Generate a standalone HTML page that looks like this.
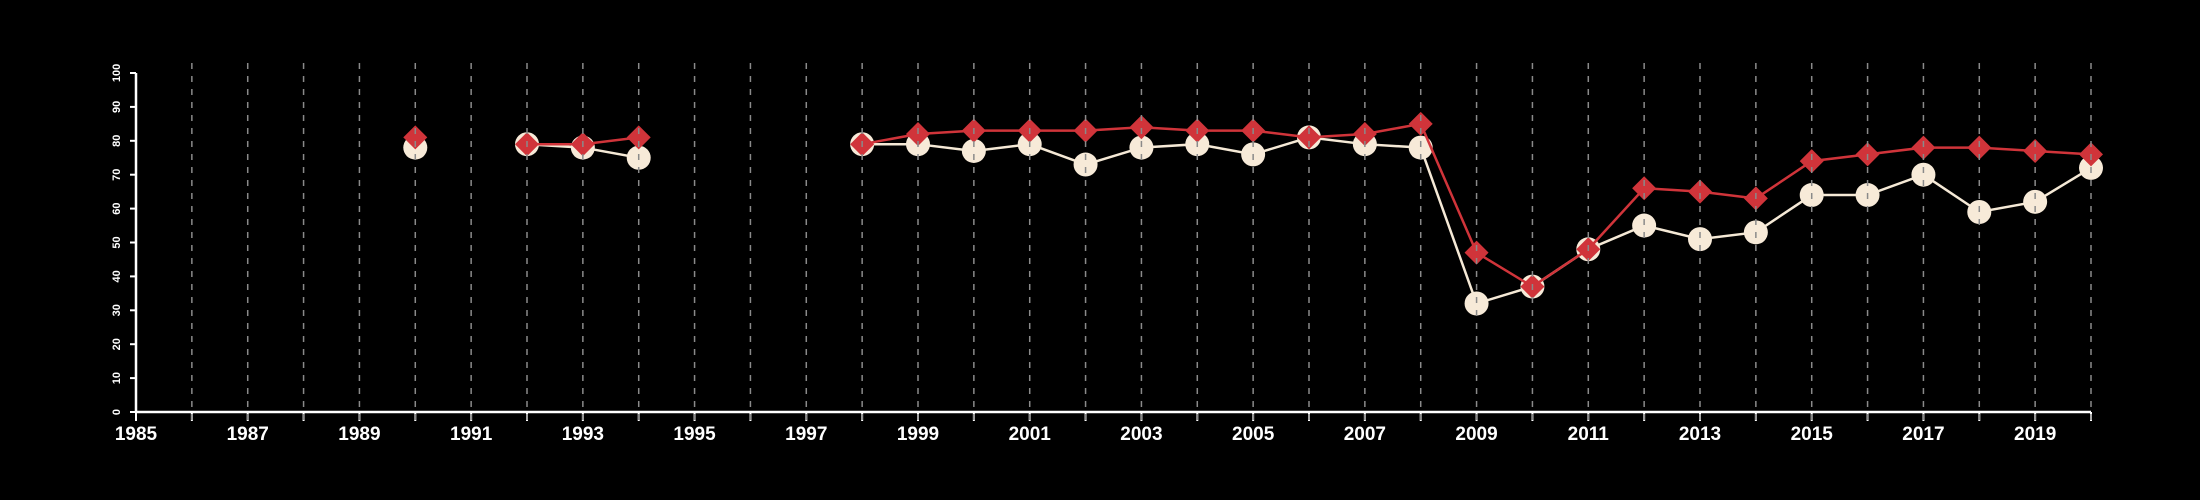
<!DOCTYPE html>
<html><head><meta charset="utf-8"><style>
html,body{margin:0;padding:0;background:#000;}
svg{display:block;}
</style></head><body>
<svg id="chart" width="2200" height="500" xmlns="http://www.w3.org/2000/svg">
<rect width="2200" height="500" fill="#000"/>
<g id="grid"></g>
<g id="axes"></g>
<g id="series"></g>
<g id="grid2"></g>
</svg>
<script>
const years = [1990,1991,1992,1993,1994,1995,1996,1997,1998,1999,2000,2001,2002,2003,2004,2005,2006,2007,2008,2009,2010,2011,2012,2013,2014,2015,2016,2017,2018,2019,2020];
const whiteSeries = [78,null,79,78,75,null,null,null,79,79,77,79,73,78,79,76,81,79,78,32,37,48,55,51,53,64,64,70,59,62,72];
const redSeries = [81,null,79,79,81,null,null,null,79,82,83,83,83,84,83,83,81,82,85,47,37,48,66,65,63,74,76,78,78,77,76];
const yTicks = [0,10,20,30,40,50,60,70,80,90,100];
const xLabelYears = [1985,1987,1989,1991,1993,1995,1997,1999,2001,2003,2005,2007,2009,2011,2013,2015,2017,2019];

const NS='http://www.w3.org/2000/svg';
const X0=136, X1=2091, Y0=412, Y1=73;
const xMin=1985, xMax=2020;
function xs(v){return X0+(v-xMin)/(xMax-xMin)*(X1-X0);}
function ys(v){return Y0-(v/100)*(Y0-Y1);}
function mk(tag,attrs,parent){const e=document.createElementNS(NS,tag);for(const k in attrs)e.setAttribute(k,attrs[k]);parent.appendChild(e);return e;}

const grid=document.getElementById('grid');
const grid2=document.getElementById('grid2');
const axes=document.getElementById('axes');
const series=document.getElementById('series');

for(let y=1986;y<=2020;y++){
  const l=mk('line',{x1:xs(y),x2:xs(y),y1:63,y2:420,stroke:'#8a8a8a','stroke-width':1.5,'stroke-dasharray':'6,7'},grid2);
  
  
}
// axes
let a=mk('line',{x1:X0,x2:X1,y1:Y0,y2:Y0,stroke:'#fff','stroke-width':2.5},axes);


a=mk('line',{x1:X0,x2:X0,y1:Y0,y2:Y1,stroke:'#fff','stroke-width':2.5},axes);


for(let y=1985;y<=2020;y++){
  const t=mk('line',{x1:xs(y),x2:xs(y),y1:Y0,y2:Y0+9,stroke:'#fff','stroke-width':2},axes);
  
  
}
xLabelYears.forEach(y=>{
  const t=mk('text',{x:xs(y),y:440,fill:'#fff','font-family':'Liberation Sans, sans-serif','font-size':19,'font-weight':'bold','text-anchor':'middle'},axes);
  t.textContent=y;
  
  
});
yTicks.forEach(v=>{
  const t=mk('line',{x1:X0-6,x2:X0,y1:ys(v),y2:ys(v),stroke:'#fff','stroke-width':2},axes);
  
  
  const tx=mk('text',{x:0,y:0,fill:'#fff','font-family':'Liberation Sans, sans-serif','font-size':11,'font-weight':'bold','text-anchor':'middle',transform:'translate(120,'+ys(v)+') rotate(-90)'},axes);
  tx.textContent=v;
  
  
});

function drawLine(vals,color,name){
  let seg=[];
  const segs=[];
  vals.forEach((v,i)=>{if(v==null){if(seg.length)segs.push(seg);seg=[];}else seg.push([xs(years[i]),ys(v)]);});
  if(seg.length)segs.push(seg);
  segs.forEach(s=>{
    if(s.length<2)return;
    const p=mk('polyline',{points:s.map(q=>q.join(',')).join(' '),fill:'none',stroke:color,'stroke-width':2.5},series);
    
    
  });
}
drawLine(whiteSeries,'#f5e9d6','white-series');
whiteSeries.forEach((v,i)=>{
  if(v==null)return;
  const c=mk('ellipse',{cx:xs(years[i]),cy:ys(v),rx:12,ry:12,fill:'#f7ead8'},series);
  
  
});
drawLine(redSeries,'#d0343a','red-series');
redSeries.forEach((v,i)=>{
  if(v==null)return;
  const cx=xs(years[i]),cy=ys(v),r=12;
  const d=mk('polygon',{points:`${cx},${cy-r} ${cx+r},${cy} ${cx},${cy+r} ${cx-r},${cy}`,fill:'#d0343a'},series);
  
  
});
</script>
</body></html>
